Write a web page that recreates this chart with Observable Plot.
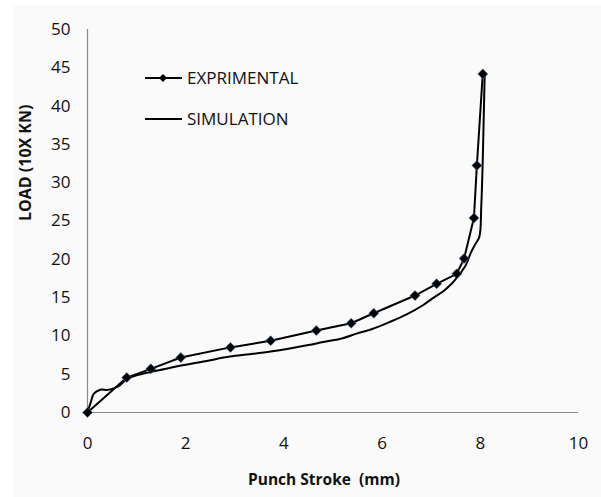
<!DOCTYPE html>
<html><head><meta charset="utf-8">
<script src="https://cdn.jsdelivr.net/npm/d3@7"></script>
<script src="https://cdn.jsdelivr.net/npm/@observablehq/plot@0.6"></script>
<style>
html,body{margin:0;padding:0;background:#fff;}
#wrap{position:absolute;left:13px;top:5px;width:588px;height:492px;background:#fafafa;}
#wrap svg{position:absolute;left:0;top:0;}
#legend{position:absolute;left:0;top:0;}
</style></head><body><div id="wrap"></div><script>
// Tick labels
const xTicks = [0, 2, 4, 6, 8, 10];
const yTicks = [0, 5, 10, 15, 20, 25, 30, 35, 40, 45, 50];
const seriesNames = ["EXPRIMENTAL", "SIMULATION"];
const xTitle = "Punch Stroke  (mm)";
const yTitle = "LOAD (10X KN)";

// EXPRIMENTAL series (stroke mm, load)
const expX = [0, 0.80, 1.29, 1.90, 2.91, 3.73, 4.66, 5.37, 5.83, 6.67, 7.11, 7.52, 7.67, 7.87, 7.93, 8.05];
const expY = [0, 4.56, 5.7, 7.18, 8.5, 9.37, 10.7, 11.65, 12.96, 15.27, 16.8, 18.1, 20.1, 25.4, 32.25, 44.2];

// SIMULATION series
const simX = [0, 0.06, 0.13, 0.26, 0.4, 0.53, 0.67, 0.8, 1.0, 1.27, 1.6, 1.88, 2.4, 2.9, 3.3, 3.73, 4.12, 4.5, 4.8, 5.2, 5.48, 5.8, 6.15, 6.5, 6.83, 7.05, 7.24, 7.4, 7.51, 7.62, 7.71, 7.81, 7.9, 7.98, 8.02, 8.05, 8.07, 8.09];
const simY = [0, 1.2, 2.45, 2.97, 2.95, 3.15, 3.6, 4.4, 4.85, 5.26, 5.7, 6.1, 6.7, 7.3, 7.6, 7.95, 8.35, 8.8, 9.2, 9.7, 10.3, 10.9, 11.8, 12.8, 14.0, 15.0, 15.8, 16.7, 17.5, 18.4, 19.3, 20.9, 22.0, 22.9, 27, 33, 38.6, 44.3];

const exp = expX.map((x, i) => ({x, y: expY[i]}));
const sim = simX.map((x, i) => ({x, y: simY[i]}));

const plot = Plot.plot({
  width: 588, height: 492,
  marginLeft: 74, marginRight: 23, marginTop: 24, marginBottom: 85,
  style: {background: "transparent", fontFamily: "Open Sans", fontSize: "17px", color: "#111"},
  x: {domain: [0, 10]},
  y: {domain: [0, 50]},
  marks: [
    Plot.ruleY([0], {stroke: "#8a8a8a", strokeWidth: 1.2}),
    Plot.ruleX([0], {stroke: "#8a8a8a", strokeWidth: 1.2}),
    Plot.line(sim, {x: "x", y: "y", stroke: "#000", strokeWidth: 2, curve: "catmull-rom"}),
    Plot.line(exp, {x: "x", y: "y", stroke: "#000", strokeWidth: 2}),
    Plot.dot(exp, {x: "x", y: "y", symbol: "diamond2", r: 4.5, fill: "#000", stroke: "#4a6fa0", strokeWidth: 0.6}),
    Plot.axisX({ticks: xTicks, tickSize: 0, tickPadding: 24, label: null, fontSize: 17}),
    Plot.axisY({ticks: yTicks, tickSize: 0, tickPadding: 17, label: null, fontSize: 17}),
    Plot.text([xTitle], {frameAnchor: "bottom", dx: -9, dy: 72, fontWeight: "bold", fontSize: 15.5, fill: "#111"}),
    Plot.text([yTitle], {frameAnchor: "left", dx: -62, rotate: -90, fontWeight: "bold", fontSize: 16, fill: "#111"})
  ]
});
document.getElementById("wrap").appendChild(plot);

// Legend overlay (page coordinates)
const lg = d3.select("body").append("svg").attr("id", "legend").attr("width", 601).attr("height", 497)
  .style("font-family", "Open Sans").style("font-size", "17px");
const rows = [{name: seriesNames[0], y: 78, marker: true}, {name: seriesNames[1], y: 119, marker: false}];
rows.forEach(r => {
  lg.append("line").attr("x1", 145).attr("x2", 182).attr("y1", r.y).attr("y2", r.y).attr("stroke", "#000").attr("stroke-width", 2);
  if (r.marker) lg.append("path").attr("d", d3.symbol(d3.symbolDiamond2, 40)()).attr("transform", `translate(163,${r.y})`).attr("fill", "#000");
  lg.append("text").attr("x", 187).attr("y", r.y).attr("dy", "0.35em").attr("fill", "#111").text(r.name);
});
</script></body></html>
